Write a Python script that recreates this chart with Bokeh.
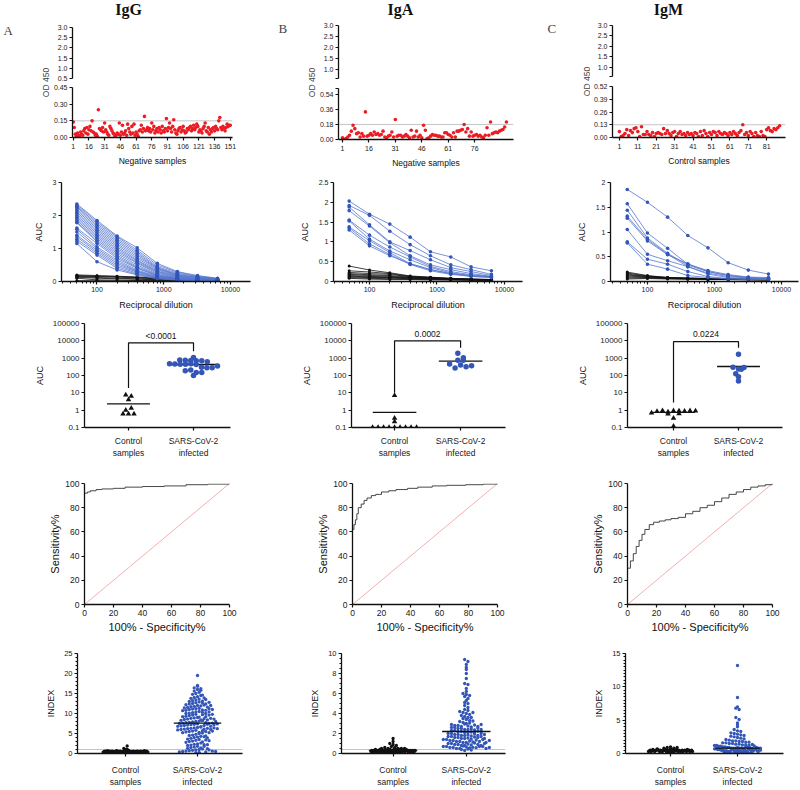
import math
from bokeh.plotting import figure
from bokeh.layouts import row, column
from bokeh.models import Range1d, FixedTicker, Label, Span, CustomJSTickFormatter
from bokeh.core.properties import value
from bokeh.embed import file_html
from bokeh.resources import INLINE

FONT = "Liberation Sans"
SERIF = "Liberation Serif"
RED = "#ec1c24"
BLUE = "#3356b7"
BLUE_LINE = "#5576cf"
BLACK = "#111111"
GREY = "#b5b5b5"
PINK = "#f3a6a6"
LAB_FS = "8.5px"

# ======================= DATA =======================
col_titles = ["IgG", "IgA", "IgM"]

# --- A-C : OD450 of negative / control samples ---
igg_neg_od = [0.14,0.09,0.03,0.01,0.04,0.02,0.01,0.05,0.03,0.02,
              0.06,0.08,0.04,0.09,0.03,0.07,0.10,0.06,0.15,0.05,
              0.04,0.02,0.03,0.01,0.25,0.08,0.07,0.06,0.09,0.05,
              0.13,0.07,0.05,0.03,0.02,0.10,0.08,0.06,0.04,0.03,
              0.01,0.02,0.04,0.03,0.13,0.02,0.05,0.11,0.03,0.04,
              0.06,0.02,0.12,0.08,0.05,0.03,0.10,0.04,0.12,0.02,
              0.05,0.03,0.01,0.06,0.07,0.11,0.05,0.08,0.19,0.06,
              0.07,0.09,0.06,0.08,0.05,0.13,0.07,0.10,0.04,0.06,
              0.08,0.05,0.09,0.07,0.04,0.10,0.06,0.05,0.08,0.17,
              0.06,0.09,0.13,0.08,0.05,0.10,0.16,0.07,0.04,0.03,
              0.06,0.08,0.09,0.05,0.07,0.10,0.06,0.04,0.05,0.08,
              0.07,0.09,0.10,0.06,0.08,0.11,0.07,0.09,0.12,0.10,
              0.05,0.07,0.06,0.04,0.08,0.10,0.13,0.06,0.05,0.09,
              0.03,0.07,0.05,0.08,0.09,0.06,0.10,0.08,0.07,0.15,
              0.18,0.09,0.07,0.10,0.08,0.06,0.09,0.12,0.10,0.11,0.11]
iga_neg_od = [0.02,0.00,0.01,0.03,0.05,0.10,0.17,0.13,0.07,0.08,
              0.03,0.07,0.04,0.33,0.04,0.05,0.07,0.05,0.09,0.06,
              0.07,0.05,0.06,0.10,0.03,0.02,0.04,0.05,0.09,0.03,
              0.24,0.04,0.05,0.05,0.03,0.04,0.06,0.04,0.02,0.11,
              0.03,0.04,0.10,0.03,0.05,0.02,0.17,0.11,0.01,0.02,
              0.04,0.06,0.05,0.05,0.04,0.04,0.03,0.03,0.08,0.08,
              0.06,0.05,0.03,0.08,0.03,0.10,0.10,0.11,0.12,0.18,
              0.09,0.13,0.04,0.09,0.04,0.05,0.06,0.04,0.05,0.03,
              0.02,0.05,0.14,0.05,0.21,0.07,0.08,0.09,0.08,0.10,
              0.11,0.12,0.15,0.21]
igm_ctrl_od = [0.06,0.01,0.02,0.04,0.08,0.02,0.07,0.05,0.09,0.10,
               0.06,0.01,0.11,0.03,0.03,0.06,0.03,0.02,0.05,0.01,
               0.04,0.05,0.04,0.03,0.09,0.04,0.07,0.04,0.02,0.05,
               0.06,0.01,0.04,0.06,0.03,0.04,0.02,0.05,0.03,0.04,
               0.02,0.05,0.04,0.01,0.06,0.02,0.07,0.04,0.01,0.05,
               0.03,0.06,0.05,0.02,0.06,0.04,0.03,0.05,0.04,0.02,
               0.05,0.03,0.06,0.04,0.02,0.05,0.07,0.13,0.03,0.05,
               0.02,0.06,0.04,0.01,0.05,0.02,0.01,0.06,0.02,0.01,
               0.08,0.10,0.07,0.06,0.09,0.08,0.10,0.12]
od_cutoff = [0.15, 0.18, 0.13]
od_xticks_a = [1, 16, 31, 46, 61, 76, 91, 106, 121, 136, 151]
od_xticks_b = [1, 16, 31, 46, 61, 76]
od_xticks_c = [1, 11, 21, 31, 41, 51, 61, 71, 81]
od_xlabels = ["Negative samples", "Negative samples", "Control samples"]

# --- D-F : titration curves ---
dilutions = [50, 100, 200, 400, 800, 1600, 3200, 6400]
igg_pos_curves = [
    [2.35,1.85,1.38,1.02,0.55,0.30,0.18,0.10], [2.32,1.80,1.35,0.95,0.50,0.28,0.16,0.09],
    [2.28,1.75,1.30,0.90,0.45,0.25,0.15,0.08], [2.25,1.70,1.25,0.85,0.42,0.22,0.13,0.07],
    [2.20,1.65,1.20,0.80,0.40,0.20,0.12,0.07], [2.15,1.60,1.15,0.75,0.38,0.20,0.12,0.06],
    [2.10,1.55,1.10,0.70,0.35,0.18,0.10,0.06], [2.05,1.50,1.05,0.65,0.32,0.16,0.09,0.05],
    [2.00,1.45,1.00,0.62,0.30,0.15,0.08,0.05], [1.95,1.40,0.95,0.58,0.28,0.14,0.08,0.04],
    [1.90,1.35,0.90,0.55,0.25,0.12,0.07,0.04], [1.85,1.30,0.85,0.50,0.22,0.11,0.06,0.04],
    [1.80,1.25,0.80,0.45,0.20,0.10,0.06,0.03], [1.78,1.20,0.75,0.42,0.18,0.09,0.05,0.03],
    [1.62,1.15,0.70,0.40,0.17,0.08,0.05,0.03], [1.58,1.05,0.65,0.35,0.15,0.08,0.04,0.03],
    [1.50,1.00,0.60,0.32,0.14,0.07,0.04,0.02], [1.40,0.95,0.55,0.30,0.12,0.06,0.04,0.02],
    [1.35,0.90,0.50,0.28,0.11,0.06,0.03,0.02], [1.28,0.85,0.45,0.25,0.10,0.05,0.03,0.02],
    [1.22,0.80,0.40,0.22,0.09,0.05,0.03,0.02], [1.15,0.60,0.35,0.20,0.08,0.04,0.03,0.02]]
igg_neg_curves = [
    [0.20,0.18,0.16,0.14,0.10,0.07,0.05,0.04], [0.18,0.16,0.15,0.12,0.09,0.06,0.05,0.03],
    [0.16,0.15,0.13,0.11,0.08,0.06,0.04,0.03], [0.15,0.12,0.10,0.08,0.06,0.05,0.04,0.03],
    [0.13,0.10,0.08,0.07,0.05,0.04,0.03,0.02], [0.10,0.05,0.04,0.03,0.03,0.02,0.02,0.02],
    [0.02,0.02,0.01,0.01,0.01,0.01,0.01,0.01], [0.01,0.01,0.01,0.01,0.01,0.01,0.01,0.01]]
iga_pos_curves = [
    [2.03,1.70,1.45,1.12,0.75,0.62,0.37,0.27], [1.92,1.67,1.27,0.93,0.65,0.42,0.30,0.18],
    [1.88,1.43,1.00,0.78,0.55,0.35,0.25,0.15], [1.79,1.40,0.98,0.65,0.42,0.30,0.20,0.13],
    [1.55,1.17,0.87,0.62,0.38,0.25,0.17,0.12], [1.53,1.07,0.77,0.55,0.35,0.22,0.15,0.12],
    [1.38,1.03,0.73,0.45,0.30,0.20,0.13,0.10], [1.35,0.95,0.68,0.43,0.27,0.18,0.13,0.10],
    [1.30,0.90,0.65,0.45,0.30,0.20,0.15,0.12]]
iga_neg_curves = [
    [0.39,0.29,0.22,0.14,0.11,0.08,0.06,0.05], [0.27,0.24,0.20,0.13,0.10,0.08,0.06,0.05],
    [0.23,0.20,0.18,0.12,0.10,0.07,0.06,0.04], [0.20,0.17,0.15,0.11,0.09,0.07,0.05,0.04],
    [0.18,0.15,0.13,0.10,0.08,0.06,0.05,0.04], [0.15,0.13,0.11,0.09,0.07,0.06,0.05,0.04],
    [0.14,0.11,0.10,0.08,0.07,0.05,0.04,0.03], [0.12,0.10,0.09,0.07,0.06,0.05,0.04,0.03],
    [0.10,0.08,0.07,0.06,0.05,0.04,0.04,0.03], [0.08,0.06,0.05,0.05,0.04,0.04,0.03,0.03]]
igm_pos_curves = [
    [1.86,1.60,1.30,0.93,0.68,0.38,0.23,0.15], [1.57,0.98,0.67,0.35,0.22,0.14,0.09,0.08],
    [1.44,0.88,0.57,0.33,0.20,0.12,0.08,0.06], [1.32,0.85,0.55,0.30,0.17,0.10,0.07,0.05],
    [1.28,0.82,0.54,0.36,0.20,0.12,0.08,0.06], [1.05,0.55,0.42,0.30,0.15,0.08,0.06,0.05],
    [0.80,0.45,0.35,0.20,0.10,0.06,0.05,0.04], [0.78,0.35,0.25,0.12,0.08,0.05,0.04,0.04]]
igm_neg_curves = [
    [0.19,0.12,0.08,0.07,0.06,0.05,0.05,0.05], [0.17,0.11,0.08,0.07,0.06,0.05,0.05,0.04],
    [0.15,0.10,0.08,0.06,0.05,0.05,0.04,0.04], [0.13,0.10,0.07,0.06,0.05,0.05,0.04,0.04],
    [0.11,0.09,0.07,0.06,0.05,0.04,0.04,0.04], [0.09,0.08,0.06,0.05,0.05,0.04,0.04,0.03],
    [0.07,0.07,0.06,0.05,0.04,0.04,0.04,0.03], [0.05,0.06,0.05,0.05,0.04,0.04,0.03,0.03]]

# --- G-I : AUC control vs infected ---
igg_auc_ctrl = [7.5, 6.5, 4.0, 1.0, 1.3, 0.6, 0.6, 0.6]
igg_auc_inf = [1090, 780, 760, 740, 720, 700, 480, 460, 450, 440, 470, 430, 300, 190, 280, 210,
               150, 280, 100, 150, 350, 620]
iga_auc_ctrl = [7.0, 0.35, 0.22, 0.1, 0.1, 0.1, 0.1, 0.1, 0.1, 0.1, 0.1, 0.1]
iga_auc_inf = [1900, 770, 1040, 460, 760, 270, 400, 320, 370]
igm_auc_ctrl = [0.70, 0.85, 0.95, 0.80, 0.60, 0.92, 0.35, 0.62, 0.90, 0.88, 0.92, 0.90, 0.12]
igm_auc_inf = [1700, 300, 240, 290, 125, 85, 230, 48]
auc_ctrl_mean = [2.3, 0.75, 0.75]
auc_inf_mean = [430, 680, 330]
auc_pvals = ["<0.0001", "0.0002", "0.0224"]
bracket_left = [19, 10, 2.8]
bracket_top = [7700, 10000, 9000]
bracket_right = [2500, 4000, 4000]

# --- J-L : ROC curves ---
roc_chance = [0, 100]
igg_fpr = [0, 0, 2, 4, 8, 12, 20, 28, 40, 55, 70, 85, 100]
igg_tpr = [0, 92, 93, 94, 95, 95.5, 96, 97, 97.5, 98, 99, 99.5, 100]
iga_fpr = [0, 0, 1, 2, 3, 4, 6, 8, 10, 13, 16, 20, 25, 30, 38, 45, 55, 65, 78, 90, 100]
iga_tpr = [0, 62, 66, 70, 75, 80, 83, 86, 88, 90, 91, 93, 94, 95, 96, 97, 98, 98.5, 99, 99.5, 100]
igm_fpr = [0, 0, 2, 4, 6, 8, 10, 12, 15, 18, 22, 26, 30, 35, 40, 45, 50, 55, 60, 65, 70, 75, 80, 85, 90, 95, 100]
igm_tpr = [0, 30, 36, 42, 48, 53, 58, 62, 66, 68, 69, 70, 71, 72, 75, 77, 80, 82, 85, 88, 91, 93, 95, 97, 98, 99, 100]

# --- M-O : index values ---
igg_idx_ctrl = [0.3,0.4,0.5,0.2,0.6,0.4,0.3,0.5,0.7,0.4, 0.3,0.5,0.6,0.2,0.4,0.5,0.3,0.6,0.4,0.5,
                0.2,0.3,0.4,0.5,0.6,0.7,0.3,0.4,0.5,0.4, 0.3,0.6,0.5,0.4,0.3,0.2,0.5,0.4,0.6,0.3,
                0.8,0.9,1.0,1.1,1.3,1.9,0.7,0.8,0.6,0.5, 0.4,0.3,0.5,0.4,0.6,0.2,0.3,0.4,0.5,0.4,
                0.3,0.5,0.6,0.4,0.3,0.5,0.4,0.2,0.6,0.5, 0.4,0.3,0.5,0.4,0.7,0.3,0.4,0.5,0.6,0.4]
igg_idx_inf = [0.2,0.3,0.4,0.5,0.6,0.7,0.8,0.9,1.0,1.1, 1.3,1.5,1.6,1.8,2.0,2.1,2.3,2.4,2.6,2.8,
               3.0,3.1,3.3,3.5,3.6,3.8,4.0,4.1,4.3,4.5, 4.6,4.8,5.0,5.1,5.2,5.4,5.5,5.6,5.8,5.9,
               6.0,6.1,6.2,6.3,6.4,6.5,6.6,6.8,6.9,7.0, 7.1,7.2,7.3,7.4,7.5,7.6,7.7,7.8,7.9,8.0,
               8.1,8.2,8.3,8.5,8.6,8.8,8.9,9.0,9.2,9.3, 9.5,9.6,9.8,10.0,10.1,10.2,10.4,10.5,10.7,10.8,
               11.0,11.1,11.2,11.4,11.5,11.7,11.8,12.0,12.2,12.4, 12.5,12.7,12.9,13.0,13.2,13.4,13.6,13.8,14.0,14.2,
               14.5,14.8,15.0,15.3,15.6,16.0,16.4,16.8,17.0,19.5, 0.4,0.9,1.4,2.2,2.9,3.4,4.2,5.3,5.7,6.1,
               6.7,7.0,7.3,7.7,8.4,9.1,9.7,10.3,11.3,11.9, 12.6,13.1,13.9,14.6,16.2,0.6,1.8,3.9,5.5,6.3,
               7.5,8.7,10.9,12.1,13.5,15.8,5.2,5.6,6.0,6.4, 6.8,7.2,7.6,8.0,8.4,8.8,9.2,9.6,10.0,10.4,
               10.8,11.2,11.6,12.0,12.4,12.8,6.2,7.4,8.6,9.8, 11.0,4.4,3.2,2.2,1.2,0.5]
iga_idx_ctrl = [0.2,0.3,0.2,0.3,0.1,0.2,0.3,0.4,0.2,0.3, 0.2,0.1,0.3,0.2,0.4,0.3,0.2,0.3,0.2,0.1,
                0.3,0.2,0.4,0.5,0.3,0.2,0.3,0.4,0.2,0.3, 0.6,0.5,0.4,0.3,0.2,0.3,0.2,0.4,0.3,0.2,
                1.5,1.2,1.0,0.9,0.8,0.7,0.6,0.5,0.5,0.4, 0.3,0.2,0.3,0.4,0.2,0.3,0.1,0.2,0.3,0.2,
                0.4,0.3,0.2,0.3,0.5,0.4,0.3,0.2,0.3,0.2, 0.1,0.2,0.3,0.2,0.2,0.3,0.2,0.1,0.2,0.3]
iga_idx_inf = [9.4,9.2,8.9,8.6,8.4,8.0,7.5,7.0,6.9,6.5, 6.2,6.0,5.9,5.8,5.7,5.5,5.3,5.1,5.0,4.8,
               4.6,4.4,4.3,4.2,4.1,4.0,3.9,3.8,3.7,3.6, 3.5,3.4,3.3,3.2,3.1,3.0,2.9,2.8,2.8,2.7,
               2.6,2.6,2.5,2.5,2.4,2.4,2.3,2.3,2.2,2.2, 2.1,2.1,2.0,2.0,1.9,1.9,1.8,1.8,1.7,1.7,
               1.6,1.6,1.5,1.5,1.4,1.4,1.3,1.3,1.2,1.2, 1.1,1.1,1.0,1.0,0.9,0.9,0.8,0.8,0.7,0.7,
               0.6,0.6,0.5,0.5,0.4,0.3,2.95,2.75,2.65,2.45, 2.35,2.15,2.05,1.85,1.75,1.55,1.45,1.25,1.15,0.95,
               0.85,0.75,0.65,0.55,0.45,0.35,3.05,2.85,2.55,2.25, 1.95,1.65,1.35,1.05,0.62,0.58,3.25,2.7,2.2,1.8,
               1.2,0.7,3.6,4.1,2.9,2.4,1.6,1.4,1.1,0.9, 0.7,0.5,2.0,1.7,1.3,0.8,0.6,1.0,1.5,1.9]
igm_idx_ctrl = [0.3,0.4,0.5,0.3,0.2,0.4,0.6,0.5,0.3,0.4, 0.5,0.7,0.8,0.9,1.0,0.6,0.4,0.3,0.5,0.4,
                0.3,0.4,0.5,0.6,0.4,0.3,0.2,0.5,0.4,0.3, 0.6,0.7,0.5,0.4,0.3,0.5,0.4,0.6,0.8,0.9,
                0.4,0.3,0.5,0.4,0.3,0.2,0.4,0.5,0.3,0.4, 0.5,0.4,0.3,0.6,0.4,0.5,0.3,0.4,0.5,0.3]
igm_idx_inf = [13.2,8.4,7.0,6.8,6.6,5.4,5.1,4.6,4.3,4.0, 3.6,3.4,3.3,3.1,3.0,2.9,2.8,2.7,2.6,2.5,
               2.4,2.3,2.2,2.1,2.0,1.9,1.9,1.8,1.8,1.7, 1.7,1.6,1.6,1.5,1.5,1.4,1.4,1.3,1.3,1.2,
               1.2,1.1,1.1,1.0,1.0,0.9,0.9,0.8,0.8,0.8, 0.7,0.7,0.7,0.6,0.6,0.6,0.5,0.5,0.5,0.4,
               0.4,0.4,0.3,0.3,0.3,0.2,0.2,0.1,0.1,0.9, 0.8,0.7,0.6,0.5,0.4,0.3,0.2,0.85,0.75,0.65,
               0.55,0.45,0.35,0.25,0.15,1.05,0.95,0.88,0.78,0.68, 0.58,0.48,0.38,0.28,0.18,1.15,1.25,1.35,0.92,0.82,
               0.72,0.62,0.52,0.42,0.32,0.22,0.12,0.5,0.6,0.7, 0.8,0.4,0.3,0.6,0.5]
idx_ctrl_mean = [0.45, 0.3, 0.45]
idx_inf_mean = [7.6, 2.2, 0.8]
idx_cutoff = [1.0, 0.4, None]


# ======================= HELPERS =======================
def base_fig(w, h, xr, yr, mb, xt="linear", yt="linear", xaxis=True, yaxis=True):
    p = figure(width=w, height=h, x_range=xr, y_range=yr,
               x_axis_type=(xt if xaxis else None), y_axis_type=(yt if yaxis else None),
               toolbar_location=None, output_backend="svg",
               min_border_left=mb[0], min_border_top=mb[1],
               min_border_right=mb[2], min_border_bottom=mb[3])
    p.xgrid.visible = False
    p.ygrid.visible = False
    p.outline_line_color = None
    return p


def style(ax, ticks=None, minor=None, fmt=None, label=None, bounds=None,
          lab_standoff=5, tick_fs="7.5px", standoff=2, lab_fs=LAB_FS):
    ax.axis_line_color = BLACK
    ax.axis_line_width = 1.3
    ax.major_tick_line_color = BLACK
    ax.major_tick_line_width = 1.2
    ax.major_tick_in = 0
    ax.major_tick_out = 3
    ax.minor_tick_in = 0
    ax.minor_tick_out = 2
    ax.minor_tick_line_color = BLACK if minor else None
    ax.minor_tick_line_width = 1
    if ticks is not None:
        ax.ticker = FixedTicker(ticks=ticks, minor_ticks=minor or [])
    if fmt is not None:
        ax.formatter = fmt
    ax.major_label_text_font = FONT
    ax.major_label_text_font_size = tick_fs
    ax.major_label_text_color = "#1a1a1a"
    ax.major_label_standoff = standoff
    if label:
        ax.axis_label = label
        ax.axis_label_text_font = FONT
        ax.axis_label_text_font_size = lab_fs
        ax.axis_label_text_font_style = "normal"
        ax.axis_label_text_color = BLACK
        ax.axis_label_standoff = lab_standoff
    if bounds is not None:
        ax.bounds = bounds


def px2data(frame, xr, yr, xlog, ylog, px, py):
    l, t, r, b = frame

    def inv(a0, a1, s0, s1, s, log):
        if log:
            a0, a1 = math.log10(a0), math.log10(a1)
        v = a0 + (s - s0) * (a1 - a0) / (s1 - s0)
        return 10 ** v if log else v
    return inv(xr.start, xr.end, l, r, px, xlog), inv(yr.start, yr.end, b, t, py, ylog)


def add_letter(p, frame, xr, yr, xt, yt, px, py, text):
    x, y = px2data(frame, xr, yr, xt == "log", yt == "log", px, py)
    p.add_layout(Label(x=x, y=y, text=text, text_font=SERIF, text_font_size="13px",
                       text_align="left", text_baseline="middle", text_color=BLACK))


def swarm_x(center, vals, ypx, d, maxhalf, pxu_x):
    bins = {}
    for i, v in enumerate(vals):
        bins.setdefault(int(round(ypx(v) / d)), []).append(i)
    xs = [0.0] * len(vals)
    for idx in bins.values():
        n = len(idx)
        sp = d if n < 2 else min(d, 2.0 * maxhalf / (n - 1))
        for k, i in enumerate(idx):
            xs[i] = center + (k - (n - 1) / 2.0) * sp / pxu_x
    return xs


GROUP_FMT = CustomJSTickFormatter(code="return tick == 1 ? 'Control\\nsamples' : (tick == 2 ? 'SARS-CoV-2\\ninfected' : '')")
PLAIN_FMT = CustomJSTickFormatter(code="return String(tick)")

# ======================= TITLES =======================
TITLE_H = 19
title_fig = base_fig(800, TITLE_H, Range1d(0, 800), Range1d(TITLE_H, 0), (0, 0, 0, 0),
                     xaxis=False, yaxis=False)
for t, cx in zip(col_titles, [128, 400, 668]):
    title_fig.add_layout(Label(x=cx, y=9, text=t, text_font=SERIF, text_font_size="16px",
                               text_font_style="bold", text_align="center", text_baseline="middle",
                               text_color=BLACK))

# ======================= ROW 1 (A-C) =======================
Y0, YS, Y1 = TITLE_H, 82, 170


def od_panel(x0, split, x1, axis_x, right_x, up_fr, up_lo, up_ticks, up_code,
             low_fr, low_hi, low_ticks, low_code, xr, xticks, xlabel, vals, cut,
             letter, letter_xy, od_xy):
    lab = base_fig(split - x0, Y1 - Y0, Range1d(x0, split), Range1d(Y1, Y0), (0, 0, 0, 0),
                   xaxis=False, yaxis=False)
    lab.add_layout(Label(x=letter_xy[0], y=letter_xy[1], text=letter, text_font=SERIF,
                         text_font_size="13px", text_align="left", text_baseline="middle"))
    lab.add_layout(Label(x=od_xy[0], y=od_xy[1], text="OD 450", angle=math.pi / 2, text_font=FONT,
                         text_font_size=LAB_FS, text_align="center", text_baseline="middle"))

    up_yr = Range1d(up_lo, 3.0)
    up = base_fig(x1 - split, YS - Y0, xr, up_yr,
                  (axis_x - split, up_fr[0] - Y0, x1 - right_x, YS - up_fr[1]), xaxis=False)
    style(up.yaxis[0], ticks=up_ticks, fmt=CustomJSTickFormatter(code=up_code), bounds=(up_lo, 3.0),
          tick_fs="7px")

    low_yr = Range1d(0, low_hi)
    low = base_fig(x1 - split, Y1 - YS, xr, low_yr,
                   (axis_x - split, low_fr[0] - YS, x1 - right_x, Y1 - low_fr[1]))
    low.add_layout(Span(location=cut, dimension="width", line_color=GREY, line_width=0.8, level="underlay"))
    low.scatter(list(range(1, len(vals) + 1)), vals, size=3.6, fill_color=RED, line_color=None)
    style(low.yaxis[0], ticks=low_ticks, fmt=CustomJSTickFormatter(code=low_code), bounds=(0, low_hi),
          tick_fs="7px")
    style(low.xaxis[0], ticks=xticks, label=xlabel, lab_standoff=4, standoff=3, tick_fs="7px")
    return [lab, column(up, low)]


row1 = row(
    *od_panel(0, 50, 265, 72, 232, (27, 78), 0.5, [0.5, 1.0, 1.5, 2.0, 2.5, 3.0], "return tick.toFixed(1)",
              (87, 137), 0.45, [0, 0.15, 0.30, 0.45], "return tick.toFixed(2)",
              Range1d(0.3, 153.1), od_xticks_a, od_xlabels[0], igg_neg_od, od_cutoff[0],
              "A", (3, 30), (45, 82)),
    *od_panel(265, 316, 530, 337, 513, (25, 78), 0.59, [0.59, 1.0, 1.5, 2.0, 2.5, 3.0],
              "return tick < 0.9 ? '' : tick.toFixed(1)",
              (88, 141), 0.61, [0, 0.18, 0.36, 0.54, 0.61], "return tick > 0.6 ? '' : tick.toFixed(2)",
              Range1d(-1.26, 98.0), od_xticks_b, od_xlabels[1], iga_neg_od, od_cutoff[1],
              "B", (278, 28), (311, 82)),
    *od_panel(530, 590, 800, 610, 785, (25, 76), 0.57, [0.57, 1.0, 1.5, 2.0, 2.5, 3.0],
              "return tick < 0.9 ? '' : tick.toFixed(1)",
              (86, 137), 0.52, [0, 0.13, 0.26, 0.39, 0.52], "return tick.toFixed(2)",
              Range1d(-2.76, 91.2), od_xticks_c, od_xlabels[2], igm_ctrl_od, od_cutoff[2],
              "C", (547, 28), (586, 81)),
)


def panel(cell, frame, xr, yr, xt="linear", yt="linear"):
    cx0, cy0, cx1, cy1 = cell
    l, t, r, b = frame
    return base_fig(cx1 - cx0, cy1 - cy0, xr, yr, (l - cx0, t - cy0, cx1 - r, cy1 - b), xt=xt, yt=yt)


# ======================= ROW 2 (D-F) =======================
LOG_MINOR = [m * 10 ** e for e in (1, 2, 3, 4) for m in range(2, 10)]


def curve_panel(cell, frame, xr, yr, yticks, pos, neg, letter, lxy):
    p = panel(cell, frame, xr, yr, xt="log")
    p.multi_line([dilutions] * len(neg), neg, line_color=BLACK, line_width=0.8)
    p.multi_line([dilutions] * len(pos), pos, line_color=BLUE_LINE, line_width=0.8)
    p.scatter([d for c in neg for d in dilutions], [v for c in neg for v in c],
              size=3, fill_color=BLACK, line_color=None)
    p.scatter([d for c in pos for d in dilutions], [v for c in pos for v in c],
              size=3.6, fill_color=BLUE, line_color=None)
    style(p.xaxis[0], ticks=[100, 1000, 10000], minor=LOG_MINOR, fmt=PLAIN_FMT,
          label="Reciprocal dilution", lab_standoff=5, tick_fs="7px", lab_fs="9px")
    style(p.yaxis[0], ticks=yticks, label="AUC", lab_standoff=6, tick_fs="7px", lab_fs="9px")
    add_letter(p, frame, xr, yr, "log", "linear", lxy[0], lxy[1], letter)
    return p


row2 = row(
    curve_panel((0, 170, 265, 312), (61, 182, 250, 283), Range1d(29.4, 19940), Range1d(0, 3),
                [0, 1, 2, 3], igg_pos_curves, igg_neg_curves, "D", (3, 187)),
    curve_panel((265, 170, 530, 312), (333, 182, 522, 283), Range1d(29.3, 18480), Range1d(0, 2.5),
                [0, 0.5, 1.0, 1.5, 2.0, 2.5], iga_pos_curves, iga_neg_curves, "E", (278, 186)),
    curve_panel((530, 170, 800, 312), (610, 182, 798, 283), Range1d(28.1, 17950), Range1d(0, 2),
                [0, 0.5, 1.0, 1.5, 2.0], igm_pos_curves, igm_neg_curves, "F", (547, 186)),
)


# ======================= ROW 3 (G-I) =======================
def auc_panel(cell, frame, xr, i, ctrl, inf, letter, lxy, inf_hw=0.33):
    yr = Range1d(0.1, 1e5)
    p = panel(cell, frame, xr, yr, yt="log")
    pxu_x = (frame[2] - frame[0]) / (xr.end - xr.start)
    pxd = (frame[3] - frame[1]) / 6.0
    ypx = lambda v: math.log10(v) * pxd
    cx = swarm_x(1, ctrl, ypx, 5.5, 22, pxu_x)
    ix = swarm_x(2, inf, ypx, 5.5, 24, pxu_x)
    p.segment(x0=[0.67, 2 - inf_hw], x1=[1.33, 2 + inf_hw], y0=[auc_ctrl_mean[i], auc_inf_mean[i]],
              y1=[auc_ctrl_mean[i], auc_inf_mean[i]], line_color=BLACK, line_width=1.3)
    p.scatter(cx, ctrl, marker="triangle", size=5.5, fill_color=BLACK, line_color=None)
    p.scatter(ix, inf, marker="circle", size=5.5, fill_color=BLUE, line_color=None)
    p.line([1, 1, 2, 2], [bracket_left[i], bracket_top[i], bracket_top[i], bracket_right[i]],
           line_color=BLACK, line_width=1.2)
    p.text(x=[1.5], y=[bracket_top[i] * 2.6], text=[auc_pvals[i]], text_font=value(FONT),
           text_font_size=value("8.5px"), text_align="center", text_baseline="middle", text_color=BLACK)
    style(p.yaxis[0], ticks=[0.1, 1, 10, 100, 1000, 10000, 100000], fmt=PLAIN_FMT, label="AUC",
          lab_standoff=5, tick_fs="8px", lab_fs="9px")
    style(p.xaxis[0], ticks=[1, 2], fmt=GROUP_FMT, tick_fs="8.5px", standoff=5)
    add_letter(p, frame, xr, yr, "linear", "log", lxy[0], lxy[1], letter)
    return p


row3 = row(
    auc_panel((0, 312, 265, 462), (84, 323, 230, 427), Range1d(0.323, 2.569), 0,
              igg_auc_ctrl, igg_auc_inf, "G", (3, 326), inf_hw=0.38),
    auc_panel((265, 312, 530, 462), (351, 323, 505, 427), Range1d(0.348, 2.68), 1,
              iga_auc_ctrl, iga_auc_inf, "H", (278, 326)),
    auc_panel((530, 312, 800, 462), (627, 323, 782, 427), Range1d(0.292, 2.677), 2,
              igm_auc_ctrl, igm_auc_inf, "I", (550, 326)),
)


# ======================= ROW 4 (J-L) =======================
def roc_panel(cell, frame, fpr, tpr, letter, lxy):
    xr, yr = Range1d(0, 100), Range1d(0, 100)
    p = panel(cell, frame, xr, yr)
    p.line(roc_chance, roc_chance, line_color=PINK, line_width=0.9)
    p.step(fpr, tpr, mode="after", line_color="#333333", line_width=0.9)
    t = [0, 20, 40, 60, 80, 100]
    style(p.xaxis[0], ticks=t, label="100% - Specificity%", lab_standoff=2, tick_fs="8.5px", lab_fs="11px")
    style(p.yaxis[0], ticks=t, label="Sensitivity%", lab_standoff=1, tick_fs="8.5px", lab_fs="11px")
    add_letter(p, frame, xr, yr, "linear", "linear", lxy[0], lxy[1], letter)
    return p


row4 = row(
    roc_panel((0, 462, 265, 637), (84, 483, 229, 604), igg_fpr, igg_tpr, "J", (3, 491)),
    roc_panel((265, 462, 530, 637), (352, 483, 497, 604), iga_fpr, iga_tpr, "K", (280, 491)),
    roc_panel((530, 462, 800, 637), (627, 483, 772, 604), igm_fpr, igm_tpr, "L", (552, 491)),
)


# ======================= ROW 5 (M-O) =======================
def idx_panel(cell, frame, xr, ymax, yticks, yminor, i, ctrl, inf, letter, lxy):
    yr = Range1d(0, ymax)
    p = panel(cell, frame, xr, yr)
    pxu_x = (frame[2] - frame[0]) / (xr.end - xr.start)
    pxu_y = (frame[3] - frame[1]) / ymax
    ypx = lambda v: v * pxu_y
    if idx_cutoff[i] is not None:
        p.add_layout(Span(location=idx_cutoff[i], dimension="width", line_color=GREY,
                          line_width=0.8, level="underlay"))
    cx = swarm_x(1, ctrl, ypx, 3.3, 22, pxu_x)
    ix = swarm_x(2, inf, ypx, 3.3, 23, pxu_x)
    p.scatter(cx, ctrl, size=3.3, fill_color=BLACK, line_color=None)
    p.scatter(ix, inf, size=3.3, fill_color=BLUE, line_color=None)
    p.segment(x0=[0.67, 1.67], x1=[1.33, 2.33], y0=[idx_ctrl_mean[i], idx_inf_mean[i]],
              y1=[idx_ctrl_mean[i], idx_inf_mean[i]], line_color=BLACK, line_width=1.3)
    style(p.yaxis[0], ticks=yticks, minor=yminor, label="INDEX", lab_standoff=5, lab_fs="9px")
    style(p.xaxis[0], ticks=[1, 2], fmt=GROUP_FMT, tick_fs="8.5px", standoff=8)
    add_letter(p, frame, xr, yr, "linear", "linear", lxy[0], lxy[1], letter)
    return p


row5 = row(
    idx_panel((0, 637, 265, 789), (77, 653, 242, 758), Range1d(0.333, 2.625), 25,
              [0, 5, 10, 15, 20, 25], [k for k in range(0, 26)], 0, igg_idx_ctrl, igg_idx_inf, "M", (3, 655)),
    idx_panel((265, 637, 530, 789), (341, 651, 505, 757), Range1d(0.296, 2.535), 10,
              [0, 2, 4, 6, 8, 10], [k * 0.5 for k in range(0, 21)], 1, iga_idx_ctrl, iga_idx_inf, "N", (278, 647)),
    idx_panel((530, 637, 800, 789), (625, 651, 783, 754), Range1d(0.328, 2.687), 15,
              [0, 5, 10, 15], [k * 0.5 for k in range(0, 31)], 2, igm_idx_ctrl, igm_idx_inf, "O", (547, 654)),
)

layout = column(title_fig, row1, row2, row3, row4, row5)
open("out.html", "w").write(file_html(layout, INLINE, "Antibody ELISA"))
